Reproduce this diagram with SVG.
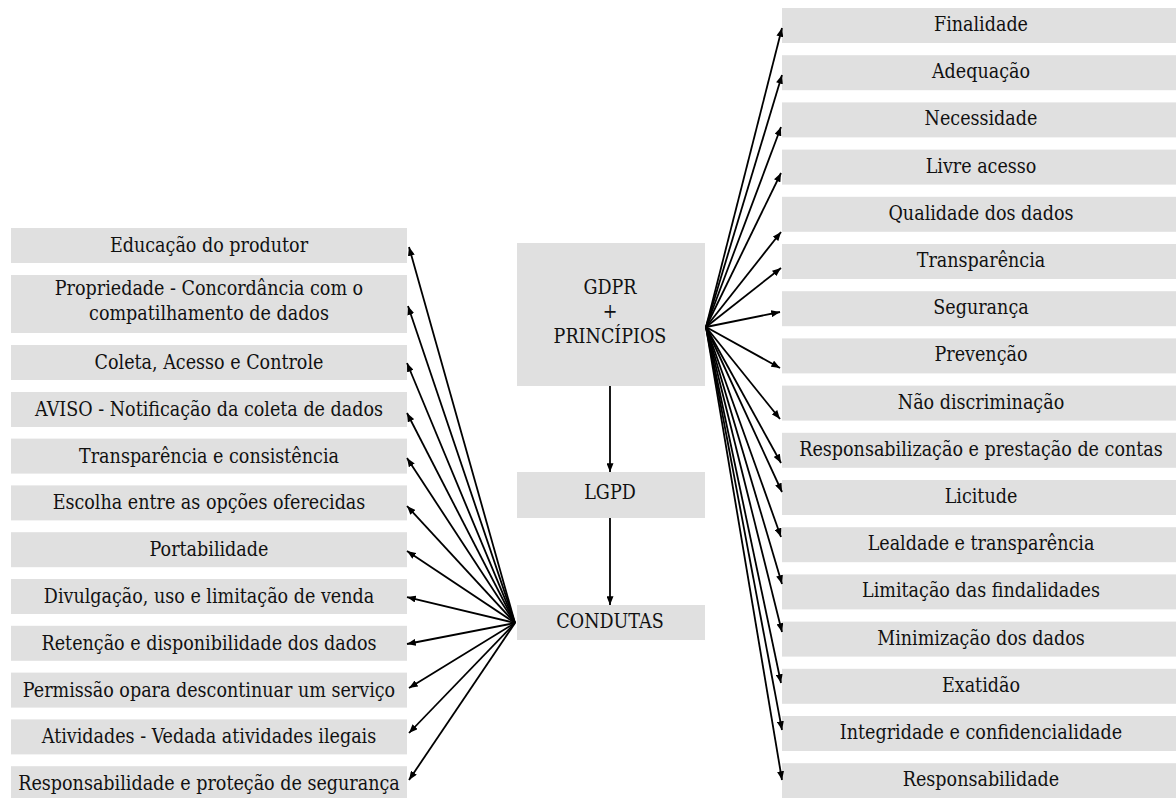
<svg xmlns="http://www.w3.org/2000/svg" width="1176" height="798" viewBox="0 0 1176 798">
<style>
.box{fill:#e0e0e0}
text{font-family:"DejaVu Serif Condensed","DejaVu Serif",serif;font-stretch:condensed;font-size:19.5px;fill:#111;text-anchor:middle}
.c{stroke:#000;stroke-width:1.8;fill:none;marker-end:url(#ah)}
</style>
<defs>
<marker id="ah" viewBox="0 0 10 8" refX="10" refY="4" markerWidth="9" markerHeight="7" orient="auto" markerUnits="userSpaceOnUse">
<path d="M0,0 L10,4 L0,8 z" fill="#000"/>
</marker>
</defs>
<rect width="1176" height="798" fill="#fff"/>
<g id="gdpr"><rect class="box" x="517" y="243" width="188" height="143"/>
<text x="610" y="294">GDPR</text><text x="610" y="318">+</text><text x="610" y="343">PRINCÍPIOS</text></g>
<g id="lgpd"><rect class="box" x="517" y="472" width="188" height="46"/><text x="610" y="499">LGPD</text></g>
<g id="condutas"><rect class="box" x="517" y="605" width="188" height="35"/><text x="610" y="628">CONDUTAS</text></g>

<g id="l0"><rect class="box" x="11" y="228" width="396" height="35"/><text x="209" y="252">Educação do produtor</text></g>
<g id="l1"><rect class="box" x="11" y="275" width="396" height="58"/><text x="209" y="295">Propriedade - Concordância com o</text><text x="209" y="320">compatilhamento de dados</text></g>
<g id="l2"><rect class="box" x="11" y="345" width="396" height="35"/><text x="209" y="369">Coleta, Acesso e Controle</text></g>
<g id="l3"><rect class="box" x="11" y="392" width="396" height="35"/><text x="209" y="416">AVISO - Notificação da coleta de dados</text></g>
<g id="l4"><rect class="box" x="11" y="438.6" width="396" height="35"/><text x="209" y="462.6">Transparência e consistência</text></g>
<g id="l5"><rect class="box" x="11" y="485.4" width="396" height="35"/><text x="209" y="509.4">Escolha entre as opções oferecidas</text></g>
<g id="l6"><rect class="box" x="11" y="532.2" width="396" height="35"/><text x="209" y="556.2">Portabilidade</text></g>
<g id="l7"><rect class="box" x="11" y="579" width="396" height="35"/><text x="209" y="603">Divulgação, uso e limitação de venda</text></g>
<g id="l8"><rect class="box" x="11" y="625.8" width="396" height="35"/><text x="209" y="649.8">Retenção e disponibilidade dos dados</text></g>
<g id="l9"><rect class="box" x="11" y="672.6" width="396" height="35"/><text x="209" y="696.6">Permissão opara descontinuar um serviço</text></g>
<g id="l10"><rect class="box" x="11" y="719.4" width="396" height="35"/><text x="209" y="743.4">Atividades - Vedada atividades ilegais</text></g>
<g id="l11"><rect class="box" x="11" y="766.2" width="396" height="35"/><text x="209" y="790.2">Responsabilidade e proteção de segurança</text></g>

<g id="r0"><rect class="box" x="782" y="8" width="394" height="35"/><text x="981" y="31">Finalidade</text></g>
<g id="r1"><rect class="box" x="782" y="55.2" width="394" height="35"/><text x="981" y="78.2">Adequação</text></g>
<g id="r2"><rect class="box" x="782" y="102.4" width="394" height="35"/><text x="981" y="125.4">Necessidade</text></g>
<g id="r3"><rect class="box" x="782" y="149.6" width="394" height="35"/><text x="981" y="172.6">Livre acesso</text></g>
<g id="r4"><rect class="box" x="782" y="196.8" width="394" height="35"/><text x="981" y="219.8">Qualidade dos dados</text></g>
<g id="r5"><rect class="box" x="782" y="244" width="394" height="35"/><text x="981" y="267">Transparência</text></g>
<g id="r6"><rect class="box" x="782" y="291.2" width="394" height="35"/><text x="981" y="314.2">Segurança</text></g>
<g id="r7"><rect class="box" x="782" y="338.4" width="394" height="35"/><text x="981" y="361.4">Prevenção</text></g>
<g id="r8"><rect class="box" x="782" y="385.6" width="394" height="35"/><text x="981" y="408.6">Não discriminação</text></g>
<g id="r9"><rect class="box" x="782" y="432.8" width="394" height="35"/><text x="981" y="455.8">Responsabilização e prestação de contas</text></g>
<g id="r10"><rect class="box" x="782" y="480" width="394" height="35"/><text x="981" y="503">Licitude</text></g>
<g id="r11"><rect class="box" x="782" y="527.2" width="394" height="35"/><text x="981" y="550.2">Lealdade e transparência</text></g>
<g id="r12"><rect class="box" x="782" y="574.4" width="394" height="35"/><text x="981" y="597.4">Limitação das findalidades</text></g>
<g id="r13"><rect class="box" x="782" y="621.6" width="394" height="35"/><text x="981" y="644.6">Minimização dos dados</text></g>
<g id="r14"><rect class="box" x="782" y="668.8" width="394" height="35"/><text x="981" y="691.8">Exatidão</text></g>
<g id="r15"><rect class="box" x="782" y="716" width="394" height="35"/><text x="981" y="739">Integridade e confidencialidade</text></g>
<g id="r16"><rect class="box" x="782" y="763.2" width="394" height="35"/><text x="981" y="786.2">Responsabilidade</text></g>
<g id="connectors">
<line class="c" x1="610" y1="386" x2="610" y2="472"/>
<line class="c" x1="610" y1="518" x2="610" y2="605"/>
<line class="c" x1="515" y1="623" x2="409" y2="247"/>
<line class="c" x1="515" y1="623" x2="408" y2="306"/>
<line class="c" x1="515" y1="623" x2="407" y2="363"/>
<line class="c" x1="515" y1="623" x2="407" y2="413"/>
<line class="c" x1="515" y1="623" x2="407" y2="458"/>
<line class="c" x1="515" y1="623" x2="407" y2="506"/>
<line class="c" x1="515" y1="623" x2="407" y2="551"/>
<line class="c" x1="515" y1="623" x2="407" y2="597"/>
<line class="c" x1="515" y1="623" x2="407" y2="644"/>
<line class="c" x1="515" y1="623" x2="409" y2="688"/>
<line class="c" x1="515" y1="623" x2="409" y2="733"/>
<line class="c" x1="515" y1="623" x2="409" y2="780"/>
<line class="c" x1="706" y1="327" x2="782" y2="28"/>
<line class="c" x1="706" y1="327" x2="782" y2="75"/>
<line class="c" x1="706" y1="327" x2="781" y2="127"/>
<line class="c" x1="706" y1="327" x2="781" y2="173"/>
<line class="c" x1="706" y1="327" x2="781" y2="232"/>
<line class="c" x1="706" y1="327" x2="781" y2="268"/>
<line class="c" x1="706" y1="327" x2="780" y2="312"/>
<line class="c" x1="706" y1="327" x2="780" y2="368"/>
<line class="c" x1="706" y1="327" x2="780" y2="419"/>
<line class="c" x1="706" y1="327" x2="781" y2="463"/>
<line class="c" x1="706" y1="327" x2="782" y2="492"/>
<line class="c" x1="706" y1="327" x2="781" y2="537"/>
<line class="c" x1="706" y1="327" x2="782" y2="584"/>
<line class="c" x1="706" y1="327" x2="782" y2="632"/>
<line class="c" x1="706" y1="327" x2="781" y2="683"/>
<line class="c" x1="706" y1="327" x2="782" y2="730"/>
<line class="c" x1="706" y1="327" x2="782" y2="780"/>
</g>
</svg>
